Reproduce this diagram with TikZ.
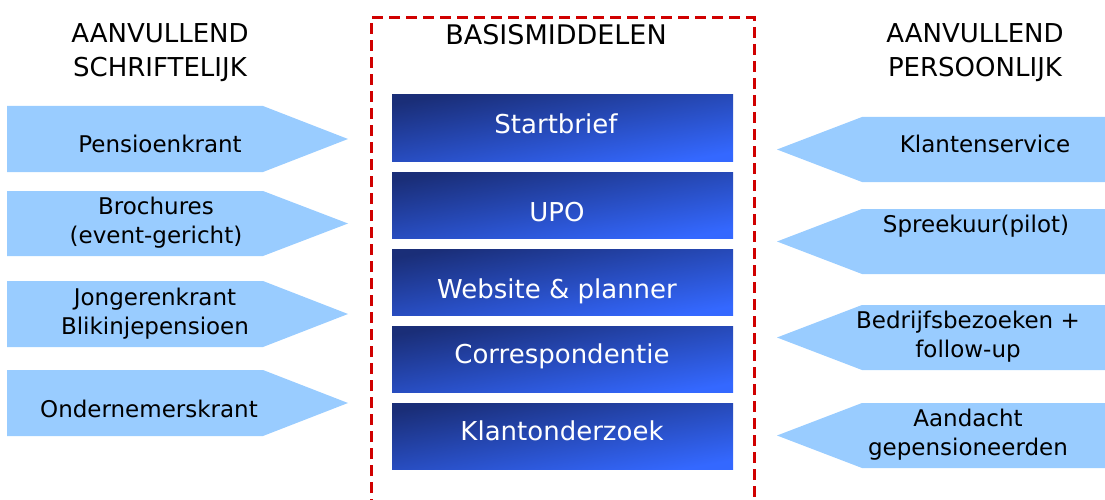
\documentclass[tikz,border=0pt]{standalone}
\usepackage{fontspec}
\setmainfont{DejaVu Sans}
\definecolor{arrowblue}{HTML}{99CCFF}
\definecolor{boxdark}{HTML}{1A2E78}
\definecolor{boxlight}{HTML}{3468FF}
\definecolor{dashred}{HTML}{D00000}
\tikzset{
  sidearrow/.style={fill=arrowblue, draw=none},
  sidetext/.style={font=\fontsize{23}{29}\selectfont, align=center, inner sep=0pt, text=black},
  headtext/.style={font=\fontsize{26}{34}\selectfont, align=center, inner sep=0pt, text=black},
  basebox/.style={rectangle, draw=none, minimum width=341pt, minimum height=66pt, inner sep=0pt,
                  top color=boxdark, bottom color=boxlight, shading angle=10},
  boxtext/.style={font=\fontsize{26}{32}\selectfont, text=white, inner sep=0pt},
  frame/.style={draw=dashred, line width=3pt, dash pattern=on 11pt off 6pt}
}
\newcommand{\leftarrowshape}[2]{%
  \fill[sidearrow] (7,#1) -- (263,#1) -- (348,{(#1+#2)/2}) -- (263,#2) -- (7,#2) -- cycle;}
\newcommand{\rightarrowshape}[2]{%
  \fill[sidearrow] (1110,#1) -- (862,#1) -- (777,{(#1+#2)/2}) -- (862,#2) -- (1110,#2) -- cycle;}
\begin{document}
\begin{tikzpicture}[x=1pt,y=-1pt]
\useasboundingbox (0,0) rectangle (1105,500);
\clip (0,0) rectangle (1105,500);

% dashed frame (open at the bottom)
\coordinate (fbl) at (371,510);
\coordinate (ftl) at (371,18);
\coordinate (ftr) at (754,18);
\coordinate (fbr) at (754,510);
\draw[frame] (fbl) -- (ftl) -- (ftr) -- (fbr);

% headers
\node[headtext] (hl) at (160,53.2) {\strut AANVULLEND\\\strut SCHRIFTELIJK};
\node[headtext] (hr) at (975,53.2) {\strut AANVULLEND\\\strut PERSOONLIJK};
\node[headtext, font=\fontsize{27}{34}\selectfont, anchor=base] (hm) at (556,45) {BASISMIDDELEN};

% left arrows
\leftarrowshape{106}{172}
\leftarrowshape{191}{256}
\leftarrowshape{281}{347}
\leftarrowshape{370}{436}

% right arrows
\rightarrowshape{117}{182}
\rightarrowshape{209}{274}
\rightarrowshape{305}{370}
\rightarrowshape{403}{468}

% central boxes
\node[basebox] (b1) at (562.5,128) {};
\node[basebox] (b2) at (562.5,205) {};
\node[basebox] (b3) at (562.5,282) {};
\node[basebox] (b4) at (562.5,359) {};
\node[basebox] (b5) at (562.5,436) {};

\node[boxtext, anchor=base] (t1) at (556,133) {Startbrief};
\node[boxtext, anchor=base] (t2) at (557,221) {UPO};
\node[boxtext, anchor=base] (t3) at (557,298) {Website \& planner};
\node[boxtext, anchor=base] (t4) at (562,363) {Correspondentie};
\node[boxtext, anchor=base] (t5) at (562,440) {Klantonderzoek};

% left texts
\node[sidetext, anchor=base] (l1) at (160,152) {Pensioenkrant};
\node[sidetext] (l2) at (156,222.7) {\strut Brochures\\\strut (event-gericht)};
\node[sidetext] (l3) at (155,313.7) {\strut Jongerenkrant\\\strut Blikinjepensioen};
\node[sidetext, anchor=base] (l4) at (149,417) {Ondernemerskrant};

% right texts
\node[sidetext, anchor=base] (r1) at (985,152) {Klantenservice};
\node[sidetext, anchor=base] (r2) at (976,232) {Spreekuur(pilot)};
\node[sidetext] (r3) at (968,336.7) {\strut Bedrijfsbezoeken +\\\strut follow-up};
\node[sidetext] (r4) at (968,434.7) {\strut Aandacht\\\strut gepensioneerden};
\end{tikzpicture}
\end{document}
